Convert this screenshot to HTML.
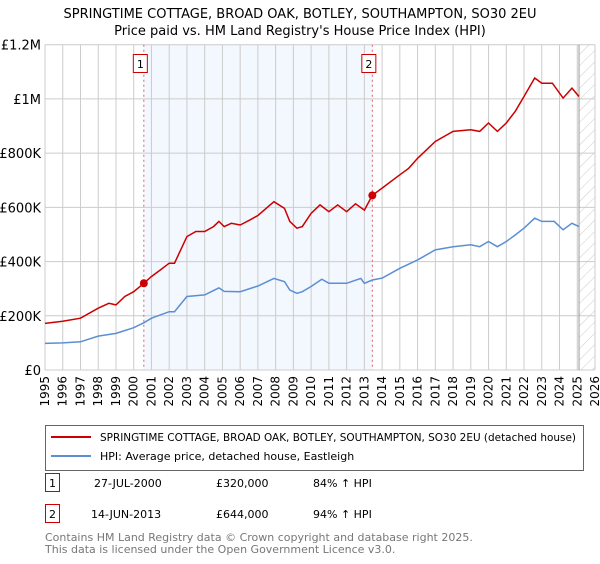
<!DOCTYPE html>
<html><head><meta charset="utf-8">
<style>
body{margin:0;background:#fff;font-family:"DejaVu Sans","Liberation Sans",sans-serif;}
svg text{font-family:"DejaVu Sans","Liberation Sans",sans-serif;}
</style></head>
<body>
<svg id="chart" width="600" height="560" viewBox="0 0 600 560">
<defs>
<pattern id="hatch" width="8" height="8" patternUnits="userSpaceOnUse" patternTransform="rotate(45)">
<line x1="0" y1="0" x2="0" y2="8" stroke="#ccc" stroke-width="1"/>
</pattern>
</defs>
<text x="300" y="18" text-anchor="middle" font-size="13" fill="#000">SPRINGTIME COTTAGE, BROAD OAK, BOTLEY, SOUTHAMPTON, SO30 2EU</text>
<text x="300" y="35" text-anchor="middle" font-size="13" fill="#000">Price paid vs. HM Land Registry's House Price Index (HPI)</text>
<g id="plot"></g>
<g>
<rect x="45.5" y="425.5" width="538" height="45" fill="#fff" stroke="#666"/>
<line x1="51" y1="437" x2="91" y2="437" stroke="#cc0000" stroke-width="2"/>
<text x="100" y="441" font-size="11" textLength="476" lengthAdjust="spacingAndGlyphs">SPRINGTIME COTTAGE, BROAD OAK, BOTLEY, SOUTHAMPTON, SO30 2EU (detached house)</text>
<line x1="51" y1="456" x2="91" y2="456" stroke="#5b8fd4" stroke-width="2"/>
<text x="100" y="460" font-size="11">HPI: Average price, detached house, Eastleigh</text>
</g>
<g font-size="11">
<rect x="45.5" y="473.5" width="14" height="18" fill="#fff" stroke="#cc0000"/>
<text x="52.5" y="487" text-anchor="middle">1</text>
<text x="94" y="487">27-JUL-2000</text>
<text x="216" y="487">£320,000</text>
<text x="313" y="487">84% ↑ HPI</text>
<rect x="45.5" y="504.5" width="14" height="18" fill="#fff" stroke="#cc0000"/>
<text x="52.5" y="518" text-anchor="middle">2</text>
<text x="91" y="518">14-JUN-2013</text>
<text x="216" y="518">£644,000</text>
<text x="313" y="518">94% ↑ HPI</text>
</g>
<text x="45" y="541" font-size="11" fill="#777">Contains HM Land Registry data © Crown copyright and database right 2025.</text>
<text x="45" y="553" font-size="11" fill="#777">This data is licensed under the Open Government Licence v3.0.</text>
</svg>
<script>
const hpiYears=[1995,1996,1997,1998,1999,2000,2000.57,2001,2002,2002.3,2003,2004,2004.8,2005.1,2006,2007,2007.9,2008.5,2008.8,2009.2,2009.5,2010,2010.6,2011,2012,2012.8,2013,2013.45,2014,2015,2016,2017,2018,2019,2019.5,2020,2020.5,2021,2021.5,2022,2022.6,2023,2023.7,2024.2,2024.7,2025.1];
const hpiValues=[98,100,104,125,135,156,174,191,215,215,271,277,303,290,289,310,338,326,295,283,289,308,335,320,320,338,320,332,339,375,406,443,455,462,455,474,455,474,498,523,560,548,548,517,541,529];
const propYears=[1995,1996,1997,1998,1998.6,1999,1999.5,2000,2000.57,2001,2001.5,2002,2002.3,2003,2003.5,2004,2004.5,2004.8,2005.1,2005.5,2006,2006.5,2007,2007.9,2008.5,2008.8,2009.2,2009.5,2010,2010.5,2011,2011.5,2012,2012.5,2013,2013.45,2014,2015,2015.5,2016,2017,2018,2019,2019.5,2020,2020.5,2021,2021.5,2022,2022.6,2023,2023.6,2024.2,2024.7,2025.1];
const propValues=[172,180,191,228,246,240,271,289,320,345,369,394,394,492,511,511,529,548,529,541,535,552,570,621,596,548,523,529,578,609,584,609,584,613,590,644,671,720,744,781,843,880,886,880,911,880,911,954,1009,1077,1058,1058,1003,1040,1009];
const yTicks=[0,200,400,600,800,1000,1200];
const yTickLabels=["£0","£200K","£400K","£600K","£800K","£1M","£1.2M"];
const xTicks=[1995,1996,1997,1998,1999,2000,2001,2002,2003,2004,2005,2006,2007,2008,2009,2010,2011,2012,2013,2014,2015,2016,2017,2018,2019,2020,2021,2022,2023,2024,2025,2026];
const sales=[{label:"1",year:2000.57,value:320},{label:"2",year:2013.45,value:644}];
const shadeRange=[2000.57,2013.45];
const hatchStart=2025.1;

const X0=45,X1=595,Y0=370,Y1=44.7;
const xs=y=>X0+(y-1995)/(2026-1995)*(X1-X0);
const ys=v=>Y0-v/1200*(Y0-Y1);
const NS="http://www.w3.org/2000/svg";
const g=document.getElementById('plot');
function mk(t,a){const e=document.createElementNS(NS,t);for(const k in a)e.setAttribute(k,a[k]);g.appendChild(e);return e;}

const shade=mk('rect',{x:xs(shadeRange[0]),y:Y1,width:xs(shadeRange[1])-xs(shadeRange[0]),height:Y0-Y1,fill:'#eef3fd',opacity:0.7});


const hatch=mk('rect',{x:xs(hatchStart),y:Y1,width:X1-xs(hatchStart),height:Y0-Y1,fill:'url(#hatch)'});



xTicks.forEach(t=>{
 const l=mk('line',{x1:xs(t),x2:xs(t),y1:Y1,y2:Y0,stroke:'#ccc','stroke-width':1});
 
 
 const tx=mk('text',{x:0,y:0,'font-size':12,'text-anchor':'end',transform:`translate(${xs(t)+4},${Y0+6}) rotate(-90)`});
 tx.textContent=t;
 
 
});
yTicks.forEach((t,i)=>{
 const l=mk('line',{x1:X0,x2:X1,y1:ys(t),y2:ys(t),stroke:'#ccc','stroke-width':1});
 
 
 const tx=mk('text',{x:X0-4,y:ys(t)+5,'font-size':13,'text-anchor':'end'});
 tx.textContent=yTickLabels[i];
 
 
});
const edge=mk('line',{x1:xs(hatchStart),x2:xs(hatchStart),y1:Y1,y2:Y0,stroke:'#999','stroke-width':1});



sales.forEach(s=>{
 const l=mk('line',{x1:xs(s.year),x2:xs(s.year),y1:Y1,y2:Y0,stroke:'#e06070','stroke-width':1,'stroke-dasharray':'2,3'});
 
 
 const b=mk('rect',{x:xs(s.year)-10.5,y:54.5,width:14,height:18,fill:'#fff',stroke:'#cc0000'});
 
 
 const t=mk('text',{x:xs(s.year)-3.5,y:68,'font-size':11,'text-anchor':'middle'});
 t.textContent=s.label;
 
 
});

function path(xa,va){return xa.map((x,i)=>(i?'L':'M')+xs(x).toFixed(1)+','+ys(va[i]).toFixed(1)).join('');}
const hp=mk('path',{d:path(hpiYears,hpiValues),fill:'none',stroke:'#5b8fd4','stroke-width':1.5});


const pp=mk('path',{d:path(propYears,propValues),fill:'none',stroke:'#cc0000','stroke-width':1.5});


sales.forEach(s=>{
 const c=mk('circle',{cx:xs(s.year),cy:ys(s.value),r:4,fill:'#cc0000'});
 
 
});
</script>
</body></html>
